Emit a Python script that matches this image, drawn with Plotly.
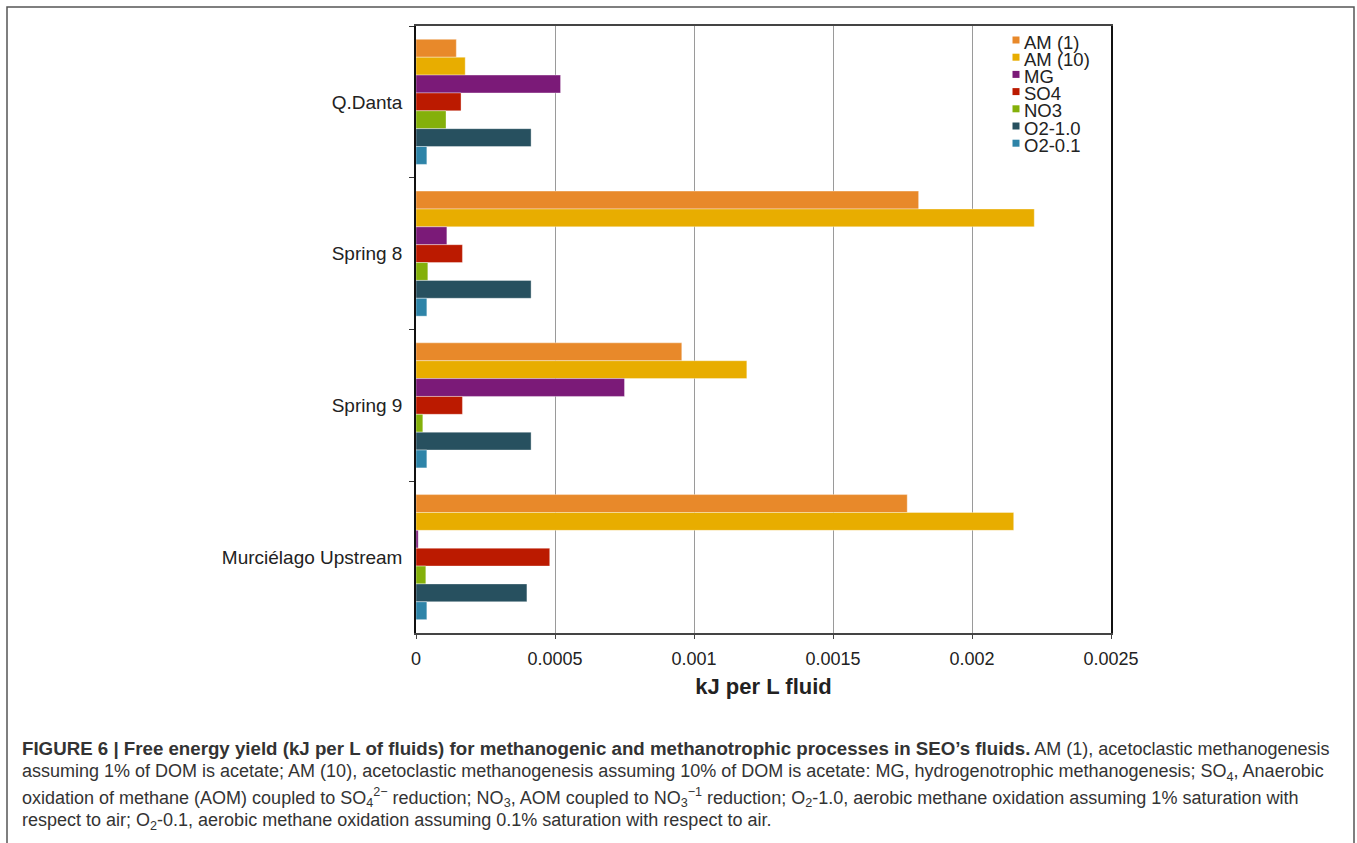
import plotly.graph_objects as go

# Sites (top to bottom) and energy yields in kJ per L fluid
sites = ["Q.Danta", "Spring 8", "Spring 9", "Murciélago Upstream"]

am_1 = [0.000145, 0.001808, 0.000956, 0.001767]
am_10 = [0.000177, 0.002224, 0.001190, 0.002150]
mg = [0.000520, 0.000111, 0.000750, 0.0000079]
so4 = [0.000162, 0.000167, 0.000167, 0.000481]
no3 = [0.000108, 0.0000425, 0.0000245, 0.0000353]
o2_10 = [0.000414, 0.000414, 0.000414, 0.000399]
o2_01 = [0.000039, 0.000039, 0.000039, 0.000039]

series_names = ["AM (1)", "AM (10)", "MG", "SO4", "NO3", "O2-1.0", "O2-0.1"]
series_values = [am_1, am_10, mg, so4, no3, o2_10, o2_01]
series_colors = ["#E8892A", "#E8AD00", "#7B1A78", "#BB1A00", "#84B00A", "#27505F", "#2E84A8"]

x_tick_vals = [0, 0.0005, 0.001, 0.0015, 0.002, 0.0025]
x_tick_text = ["0", "0.0005", "0.001", "0.0015", "0.002", "0.0025"]

caption_lines = [
    "<span style=\"font-size:18.7px\"><b>FIGURE 6 | Free energy yield (kJ per L of fluids) for methanogenic and "
    "methanotrophic processes in SEO’s fluids.</b></span> AM (1), acetoclastic methanogenesis",
    "assuming 1% of DOM is acetate; AM (10), acetoclastic methanogenesis assuming 10% of DOM is acetate: MG, "
    "hydrogenotrophic methanogenesis; SO<sub>4</sub>, Anaerobic",
    "oxidation of methane (AOM) coupled to SO<sub>4</sub><sup>2−</sup> reduction; NO<sub>3</sub>, AOM coupled to "
    "NO<sub>3</sub><sup>−1</sup> reduction; O<sub>2</sub>-1.0, aerobic methane oxidation assuming 1% saturation with",
    "respect to air; O<sub>2</sub>-0.1, aerobic methane oxidation assuming 0.1% saturation with respect to air.",
]

W, H = 1357, 843
L, R, T, B = 416, 246, 26, 210
pw, ph = W - L - R, H - T - B


def px_x(p):
    return (p - L) / pw


def px_y(p):
    return (H - B - p) / ph


fig = go.Figure()
for name, vals, col in zip(series_names, series_values, series_colors):
    fig.add_trace(go.Bar(
        y=sites, x=vals, name=name, orientation="h", showlegend=False,
        marker=dict(color=col, line=dict(color="rgba(255,255,255,0.6)", width=0.6)),
    ))

font_main = "Liberation Sans, Arial, Helvetica, sans-serif"

fig.update_layout(
    width=W, height=H,
    margin=dict(l=L, r=R, t=T, b=B),
    paper_bgcolor="white", plot_bgcolor="white",
    barmode="group", bargap=0.176, bargroupgap=0,
    font=dict(family=font_main, size=18, color="#222"),
    xaxis=dict(
        range=[0, 0.0025], tickvals=x_tick_vals, ticktext=x_tick_text,
        showgrid=True, gridcolor="#9a9a9a", gridwidth=1.3,
        showline=True, linecolor="#444", linewidth=1.5, mirror=True,
        ticks="outside", ticklen=4, tickcolor="#444", ticklabelstandoff=5,
        zeroline=False,
        tickfont=dict(size=18, color="#222"),
        title=dict(text="<b>kJ per L fluid</b>", font=dict(size=22, color="#222"), standoff=10),
    ),
    yaxis=dict(
        type="category", categoryorder="array", categoryarray=sites,
        autorange="reversed",
        showline=True, linecolor="#111", linewidth=1.5, mirror=True,
        ticks="outside", ticklen=5, tickcolor="#333", tickson="boundaries",
        showgrid=False, ticklabelstandoff=8,
        tickfont=dict(size=19, color="#222"),
    ),
)

# Series key in the upper right of the plot area
key_x, key_y0, key_step = 1016, 42, 17.2
for i, (name, col) in enumerate(zip(series_names, series_colors)):
    yy = px_y(key_y0 + i * key_step)
    fig.add_shape(
        type="rect", xref="paper", yref="paper",
        xsizemode="pixel", ysizemode="pixel",
        xanchor=px_x(key_x), yanchor=yy,
        x0=-3.5, x1=3.5, y0=-1.5, y1=5.5,
        line=dict(width=0), fillcolor=col,
    )
    fig.add_annotation(
        text=name, xref="paper", yref="paper",
        x=px_x(key_x + 6), y=yy, xanchor="left", yanchor="middle",
        showarrow=False, font=dict(size=18.5, color="#222"),
    )

# Outer frame around figure and caption
fig.add_shape(
    type="rect", xref="paper", yref="paper",
    x0=px_x(7), x1=px_x(1354), y0=px_y(860), y1=px_y(7),
    line=dict(color="#555", width=1.5), fillcolor="rgba(0,0,0,0)", layer="below",
)

caption_y = [748, 772, 797, 821]
for text, py in zip(caption_lines, caption_y):
    fig.add_annotation(
        text=text, xref="paper", yref="paper",
        x=px_x(20), y=px_y(py), xanchor="left", yanchor="middle",
        showarrow=False, align="left",
        font=dict(family=font_main, size=18, color="#333"),
    )

fig.write_html("out.html")
